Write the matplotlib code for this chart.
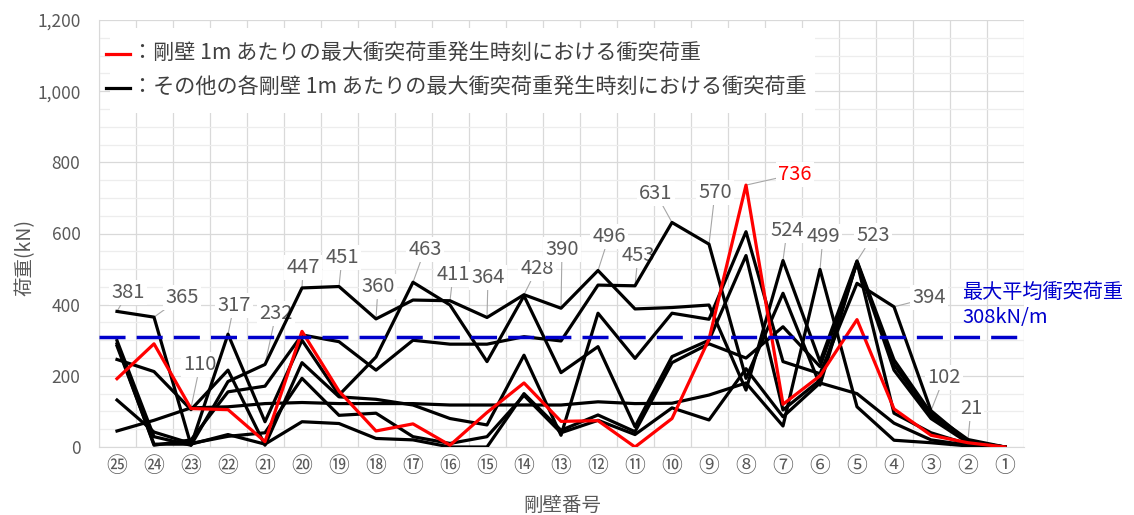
import matplotlib
matplotlib.use("Agg")
import matplotlib.pyplot as plt
from matplotlib.lines import Line2D
from matplotlib.patches import Rectangle
from matplotlib.ticker import MultipleLocator, FuncFormatter
import numpy as np

plt.rcParams['font.family'] = ['Noto Sans CJK JP', 'DejaVu Sans']

# 剛壁番号（左から㉕→①）
walls = ['㉕', '㉔', '㉓', '㉒', '㉑', '⑳', '⑲', '⑱', '⑰', '⑯', '⑮', '⑭', '⑬',
         '⑫', '⑪', '⑩', '⑨', '⑧', '⑦', '⑥', '⑤', '④', '③', '②', '①']

# 剛壁⑧ 1m あたりの最大衝突荷重発生時刻における衝突荷重 (kN)
max_wall_load = [192, 290, 108, 105, 15, 325, 157, 45, 65, 5, 97, 180, 72,
                 74, 0, 80, 303, 736, 120, 200, 358, 107, 33, 12, 0]

# その他の各剛壁の最大衝突荷重発生時刻における衝突荷重 (kN)
other_load_a = [299, 29, 5, 184, 232, 447, 451, 360, 413, 411, 364, 428, 390,
                496, 388, 392, 399, 160, 524, 240, 523, 245, 95, 21, 0]
other_load_b = [290, 5, 20, 155, 171, 315, 296, 216, 300, 289, 289, 310, 298,
                455, 453, 631, 570, 193, 432, 174, 521, 231, 89, 15, 0]
other_load_c = [381, 365, 5, 317, 71, 300, 146, 253, 463, 399, 240, 425, 209,
                282, 57, 254, 300, 538, 104, 188, 520, 216, 80, 12, 0]
other_load_d = [246, 212, 105, 216, 5, 237, 141, 134, 118, 80, 62, 258, 33,
                376, 249, 376, 359, 605, 240, 206, 460, 394, 102, 15, 0]
other_load_e = [132, 42, 10, 30, 40, 193, 89, 95, 29, 10, 29, 145, 40,
                75, 35, 110, 76, 220, 85, 180, 150, 67, 20, 5, 0]
other_load_f = [45, 75, 110, 113, 122, 125, 122, 122, 122, 118, 118, 118, 118,
                127, 122, 123, 146, 180, 59, 499, 113, 19, 12, 3, 0]
other_load_g = [284, 8, 8, 35, 8, 71, 66, 24, 20, 0, 0, 150, 47,
                90, 43, 237, 290, 250, 338, 226, 518, 95, 40, 8, 0]

average_max_load = 308  # 最大平均衝突荷重 (kN/m)

other_loads = [other_load_a, other_load_b, other_load_c, other_load_d,
               other_load_e, other_load_f, other_load_g]

# ピーク値ラベルの位置（点からのずれ, px）
label_shift = [(11, 19), (28, 20), (9, 43), (6, 29), (11, 51), (1, 20), (3, 29),
               (2, 32), (12, 33), (3, 26), (1, 40), (13, 26), (1, 59), (11, 34),
               (3, 30), (-16, 29), (6, 52), (49, 11), (4, 30), (3, 33), (16, 25),
               (35, 9), (13, 33), (3, 31), (0, 20)]

W, H = 1134, 515
fig = plt.figure(figsize=(W / 100, H / 100), dpi=100)
ax = fig.add_axes([98.5 / W, (H - 447) / H, 925 / W, 427 / H])

x = np.arange(len(walls))
ax.set_xlim(-0.5, len(walls) - 0.5)
ax.set_ylim(0, 1200)

gray_text = '#595959'
ax.set_axisbelow(True)
ax.yaxis.set_major_locator(MultipleLocator(200))
ax.yaxis.set_minor_locator(MultipleLocator(50))
ax.grid(axis='y', which='major', color='#d9d9d9', lw=0.9)
ax.grid(axis='y', which='minor', color='#ededed', lw=0.9)
ax.set_xticks(x)
ax.set_xticklabels(walls)
ax.set_xticks(np.arange(-0.5, len(walls)), minor=True)
ax.grid(axis='x', which='minor', color='#d9d9d9', lw=0.9)
ax.tick_params(which='both', length=0)
ax.tick_params(axis='y', pad=13, labelsize=12.5, labelcolor=gray_text)
ax.tick_params(axis='x', pad=6, labelsize=15, labelcolor=gray_text)
ax.yaxis.set_major_formatter(FuncFormatter(lambda v, p: f'{int(v):,}'))
for s in ['top', 'right']:
    ax.spines[s].set_visible(False)
for s in ['left', 'bottom']:
    ax.spines[s].set_color('#d9d9d9')

# 系列
for series in other_loads:
    ax.plot(x, series, color='black', lw=2.3, solid_joinstyle='round', zorder=3)
ax.plot(x, max_wall_load, color='#ff0000', lw=2.3, solid_joinstyle='round', zorder=4)

# 最大平均衝突荷重
ax.axhline(average_max_load, color='#0000cc', lw=2.5, dashes=(7.5, 3.2), zorder=5)
fig.text(962 / W, 1 - 292 / H, '最大平均衝突荷重', color='#0000cc', fontsize=14.5,
         va='center', ha='left')
fig.text(962 / W, 1 - 318 / H, f'{average_max_load}kN/m', color='#0000cc',
         fontsize=14.5, va='center', ha='left')

# 各剛壁位置での最大値ラベル
all_loads = np.vstack([max_wall_load] + other_loads)
peaks = all_loads.max(axis=0)
for i, peak in enumerate(peaks):
    if peak <= 0:
        continue
    color = '#ff0000' if max_wall_load[i] == peak else gray_text
    dx, dy = label_shift[i]
    ax.annotate(f'{peak:.0f}', xy=(i, peak), xytext=(dx * 0.72, dy * 0.72),
                textcoords='offset points', ha='center', va='center',
                fontsize=14.5, color=color, zorder=2.5,
                bbox=dict(boxstyle='square,pad=0.1', fc='white', ec='none'),
                arrowprops=dict(arrowstyle='-', color='#a6a6a6', lw=0.8,
                                shrinkA=0, shrinkB=0))

# 凡例
ax.add_patch(Rectangle((110 / W, 1 - 113 / H), 705 / W, 85 / H,
                       transform=fig.transFigure, fc='white', ec='none', zorder=1))
legend_items = [('#ff0000', 54, '：剛壁 1m あたりの最大衝突荷重発生時刻における衝突荷重'),
                ('black', 88, '：その他の各剛壁 1m あたりの最大衝突荷重発生時刻における衝突荷重')]
for col, ypx, label in legend_items:
    fig.add_artist(Line2D([106 / W, 130 / W], [1 - ypx / H] * 2, color=col, lw=2.3))
    fig.text(132 / W, 1 - ypx / H, label, fontsize=15.2, color='#404040',
             va='center', ha='left')

# 軸タイトル
fig.text(25 / W, 1 - 257 / H, '荷重(kN)', rotation=90, fontsize=14,
         color=gray_text, ha='center', va='center')
fig.text(562 / W, 1 - 505 / H, '剛壁番号', fontsize=14, color=gray_text,
         ha='center', va='center')

fig.savefig('out.png', dpi=100)
